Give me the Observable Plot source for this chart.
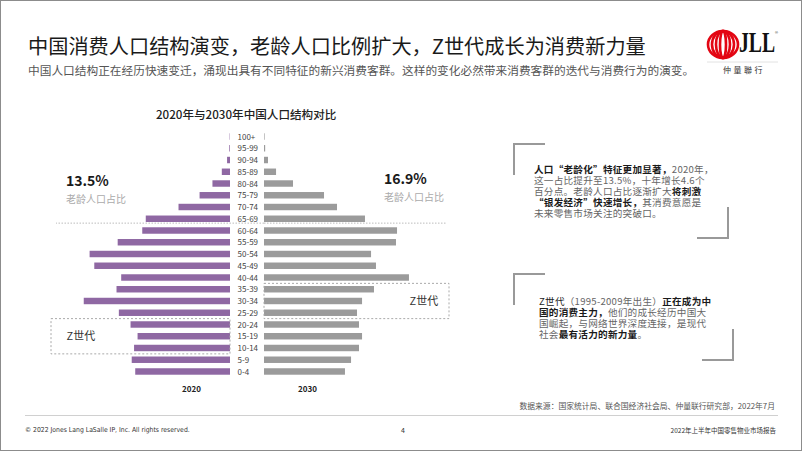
<!DOCTYPE html>
<html><head><meta charset="utf-8">
<script src="https://cdn.jsdelivr.net/npm/d3@7"></script>
<script src="https://cdn.jsdelivr.net/npm/@observablehq/plot@0.6"></script>
<style>
html,body{margin:0;padding:0;background:#fff;}
#page{position:relative;width:802px;height:451px;box-sizing:border-box;border:1px solid #8c8c8c;overflow:hidden;font-family:'Noto Sans CJK SC','Noto Sans',sans-serif;}
.abs{position:absolute;white-space:nowrap;}
.plotwrap{position:absolute;left:0;top:0;}
.b{color:#1a1a1a;font-weight:bold;}
.tl{display:block;height:11px;line-height:11px;}
</style></head>
<body><div id="page">
<div class="abs" style="left:27px;top:31px;font-size:20.2px;line-height:28px;color:#1a1a1a;">中国消费人口结构演变，老龄人口比例扩大，Z世代成长为消费新力量</div>
<div class="abs" style="left:27px;top:61px;font-size:11.7px;line-height:16px;color:#555;">中国人口结构正在经历快速变迁，涌现出具有不同特征的新兴消费客群。这样的变化必然带来消费客群的迭代与消费行为的演变。</div>

<svg class="abs" style="left:700px;top:22px;" width="82" height="44">
  <g fill="none" stroke="#e30613" stroke-width="2.6">
    <ellipse cx="22" cy="21.5" rx="15" ry="13.5"/>
    <ellipse cx="22" cy="21.5" rx="11" ry="13.5"/>
    <ellipse cx="22" cy="21.5" rx="7" ry="13.5"/>
    <ellipse cx="22" cy="21.5" rx="3" ry="13.5"/>
  </g>
  <line x1="6" y1="39" x2="77" y2="39" stroke="#e2e2e2" stroke-width="1"/>
</svg>
<div class="abs" style="left:738px;top:24px;font-family:'Liberation Serif',serif;font-weight:bold;font-size:29px;line-height:34px;color:#111;transform:scaleX(0.68);transform-origin:0 0;">JLL</div>
<div class="abs" style="left:774px;top:29px;font-family:'Liberation Sans',sans-serif;font-size:4px;line-height:5px;color:#111;">®</div>
<div class="abs" style="left:722px;top:63px;font-size:8px;line-height:12px;letter-spacing:2.5px;color:#333;">仲量聯行</div>

<div class="abs" style="left:155px;top:105px;font-size:11.6px;line-height:16px;color:#222;font-weight:500;">2020年与2030年中国人口结构对比</div>

<div id="left" class="plotwrap"></div>
<div id="right" class="plotwrap"></div>

<div class="abs" style="left:65px;top:170px;font-size:14px;line-height:18px;color:#1a1a1a;font-weight:bold;">13.5%</div>
<div class="abs" style="left:65px;top:191px;font-size:10px;line-height:14px;color:#aaa;">老龄人口占比</div>
<div class="abs" style="left:383px;top:168px;font-size:14px;line-height:18px;color:#1a1a1a;font-weight:bold;">16.9%</div>
<div class="abs" style="left:383px;top:189px;font-size:10px;line-height:14px;color:#aaa;">老龄人口占比</div>

<div class="abs" style="left:181px;top:382px;font-size:8px;line-height:12px;font-weight:bold;color:#222;">2020</div>
<div class="abs" style="left:297px;top:382px;font-size:8px;line-height:12px;font-weight:bold;color:#222;">2030</div>

<!-- text box 1 -->
<div class="abs" style="left:512px;top:142px;width:30px;height:30px;border-left:2px solid #999;border-top:2px solid #999;"></div>
<div class="abs" style="left:696px;top:206px;width:30px;height:30px;border-right:2px solid #999;border-bottom:2px solid #999;"></div>
<div class="abs" style="left:533px;top:162.5px;font-size:9.6px;color:#666;letter-spacing:0.25px;">
<span class="tl"><span class="b">人口“老龄化”特征更加显著，</span>2020年，</span>
<span class="tl">这一占比提升至13.5%，十年增长4.6个</span>
<span class="tl">百分点。老龄人口占比逐渐扩大<span class="b">将刺激</span></span>
<span class="tl"><span class="b">“银发经济”快速增长，</span>其消费意愿是</span>
<span class="tl">未来零售市场关注的突破口。</span></div>

<!-- text box 2 -->
<div class="abs" style="left:512px;top:272px;width:30px;height:30px;border-left:2px solid #999;border-top:2px solid #999;"></div>
<div class="abs" style="left:701px;top:328px;width:30px;height:30px;border-right:2px solid #999;border-bottom:2px solid #999;"></div>
<div class="abs" style="left:538px;top:295px;font-size:9.6px;color:#666;letter-spacing:0.25px;">
<span class="tl"><span style="color:#222;">Z世代</span>（1995-2009年出生）<span class="b">正在成为中</span></span>
<span class="tl"><span class="b">国的消费主力，</span>他们的成长经历中国大</span>
<span class="tl">国崛起，与网络世界深度连接，是现代</span>
<span class="tl">社会<span class="b">最有活力的新力量</span>。</span></div>

<div class="abs" style="right:26px;top:399px;font-size:7.8px;line-height:12px;color:#555;">数据来源：国家统计局、联合国经济社会局、仲量联行研究部，2022年7月</div>
<div class="abs" style="left:24px;top:414px;width:753px;height:1px;background:#d0d0d0;"></div>
<div class="abs" style="left:24px;top:424px;font-size:6.8px;line-height:10px;color:#333;font-family:'Liberation Sans Narrow','DejaVu Sans Condensed','Liberation Sans',sans-serif;">© 2022 Jones Lang LaSalle IP, Inc. All rights reserved.</div>
<div class="abs" style="left:400px;top:424px;font-size:7px;line-height:10px;color:#333;">4</div>
<div class="abs" style="right:25px;top:424px;font-size:6.5px;line-height:10px;color:#333;">2022年上半年中国零售物业市场报告</div>
</div>
<script>
const ages = ["100+","95-99","90-94","85-89","80-84","75-79","70-74","65-69","60-64","55-59","50-54","45-49","40-44","35-39","30-34","25-29","20-24","15-19","10-14","5-9","0-4"];
const pop2020 = [0.3,0.6,2.5,7,15,26,44,72,75,96,120,116,93,97,125,95,85,79,82,84,81];
const pop2030 = [0.5,1,3.4,10.3,24.8,51.3,62.4,86.3,113.7,112.8,91.5,95.7,123.9,94,83.8,79.5,81.2,83.8,81.2,74.4,69.2];
const zGen2020 = ["20-24","15-19","10-14"];
const zGen2030 = ["35-39","30-34","25-29"];
const zLabel = "Z世代";

const K = 1.17;           // px per million
const left0 = 229, right0 = 263;
const pad = 0.45;
const font = "'Noto Sans CJK SC','Noto Sans',sans-serif";
const rows2020 = ages.map((a,i)=>({age:a, v:pop2020[i]}));
const rows2030 = ages.map((a,i)=>({age:a, v:pop2030[i]}));
const H = 400, MT = 127, MB = 21;
const step = (H-MT-MB)/(ages.length - pad + 2*pad);
const boxInset = -step*(1 + pad/2);
const common = {
  width: 470, height: H, marginTop: MT, marginBottom: MB, marginLeft: 0, marginRight: 0,
  style: {background: "transparent", fontFamily: font, overflow: "visible"},
  y: {domain: ages, padding: pad, round: false, axis: null}
};
const left = Plot.plot({
  ...common,
  x: {domain: [0, 150], range: [left0, left0 - 150*K], axis: null},
  marks: [
    Plot.ruleY(["65-69"], {x1: -(right0-left0)/K, x2: (left0-55)/K, dy: step/2 - 2, stroke: "#bdbdbd", strokeDasharray: "1.5,1.5"}),
    Plot.barX(rows2020, {y: "age", x: "v", fill: "#8f68a3"}),
    Plot.barX([zGen2020[1]], {y: d => d, x1: 0, x2: (left0-50)/K, fill: "none", stroke: "#aaa", strokeDasharray: "2,2", insetTop: boxInset, insetBottom: boxInset}),
    Plot.text([zLabel], {y: () => zGen2020[1], x: (left0-65)/K, textAnchor: "start", fontSize: 11, fill: "#333"})
  ]
});
const right = Plot.plot({
  ...common,
  x: {domain: [0, 150], range: [right0, right0 + 150*K], axis: null},
  marks: [
    Plot.ruleY(["65-69"], {x1: 0, x2: (445-right0)/K, dy: step/2 - 2, stroke: "#bdbdbd", strokeDasharray: "1.5,1.5"}),
    Plot.barX(rows2030, {y: "age", x: "v", fill: "#9b9b9b"}),
    Plot.text(ages, {y: d => d, x: 0, dx: -27, textAnchor: "start", fontSize: 8, fill: "#444"}),
    Plot.barX([zGen2030[1]], {y: d => d, x1: 0, x2: (448-right0)/K, fill: "none", stroke: "#aaa", strokeDasharray: "2,2", insetTop: boxInset, insetBottom: boxInset}),
    Plot.text([zLabel], {y: () => zGen2030[1], x: (408-right0)/K, textAnchor: "start", fontSize: 11, fill: "#333"})
  ]
});
document.getElementById("left").appendChild(left);
document.getElementById("right").appendChild(right);
</script>
</body></html>
